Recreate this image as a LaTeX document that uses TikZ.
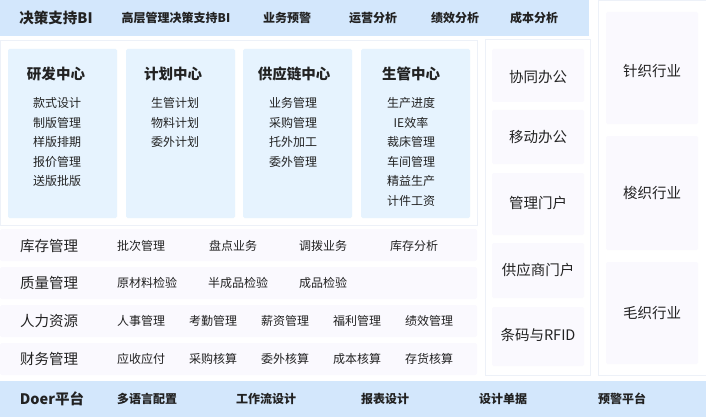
\documentclass[tikz,border=0pt]{standalone}
\usepackage{fontspec}
\setmainfont{Noto Sans CJK SC}
\definecolor{barblue}{HTML}{D3E7FC}
\definecolor{colblue}{HTML}{E6F3FE}
\definecolor{tilegray}{HTML}{FAF9FE}
\definecolor{edgegray}{HTML}{EDF1F8}
\definecolor{txt}{HTML}{222222}

\begin{document}
\begin{tikzpicture}[x=1pt, y=-1pt,
    bar/.style = {fill=barblue},
    panel/.style = {fill=white, draw=edgegray, line width=1pt},
    col/.style = {fill=colblue, rounded corners=1.5pt},
    tile/.style = {fill=tilegray, rounded corners=1.5pt},
    head/.style = {font=\fontsize{14.5}{17}\selectfont\bfseries, text=txt, inner sep=0pt},
    barlbl/.style = {font=\fontsize{12}{14}\selectfont\bfseries, text=txt, inner sep=0pt},
    item/.style = {font=\fontsize{12}{14}\selectfont, text=txt, inner sep=0pt},
    lbl/.style = {font=\fontsize{14.5}{17}\selectfont, text=txt, inner sep=0pt}]
    \useasboundingbox (0,0) rectangle (706,417);

    % top bar
    \fill[bar] (0,0) rectangle (589,36);
    \node[head] (bi) at (56,18) {决策支持BI};
    \node[barlbl] (bi1) at (176,18) {高层管理决策支持BI};
    \node[barlbl] (bi2) at (287,18) {业务预警};
    \node[barlbl] (bi3) at (373,18) {运营分析};
    \node[barlbl] (bi4) at (455,18) {绩效分析};
    \node[barlbl] (bi5) at (534,18) {成本分析};

    % centres
    \draw[panel] (0.5,40.5) rectangle (477,225.5);
    \fill[col] (8,49) rectangle (117,218);
    \fill[col] (126,49) rectangle (235,218);
    \fill[col] (243,49) rectangle (352,218);
    \fill[col] (361,49) rectangle (470,218);
    \node[head] (rnd) at (56,74) {研发中心};
    \node[head] (plan) at (173,74) {计划中心};
    \node[head] (supply) at (294,74) {供应链中心};
    \node[head] (prod) at (411,74) {生管中心};
    \foreach \t [count=\i] in {款式设计,制版管理,样版排期,报价管理,送版批版}
        \node[item] (rnd\i) at (57,83.4+19.6*\i) {\t};
    \foreach \t [count=\i] in {生管计划,物料计划,委外计划}
        \node[item] (plan\i) at (175,83.4+19.6*\i) {\t};
    \foreach \t [count=\i] in {业务管理,采购管理,托外加工,委外管理}
        \node[item] (supply\i) at (293,83.4+19.6*\i) {\t};
    \foreach \t [count=\i] in {生产进度,IE效率,裁床管理,车间管理,精益生产,计件工资}
        \node[item] (prod\i) at (411,83.4+19.6*\i) {\t};

    % rows
    \fill[tile] (0,229) rectangle (477,261);
    \fill[tile] (0,267) rectangle (477,299);
    \fill[tile] (0,305) rectangle (477,337);
    \fill[tile] (0,343) rectangle (477,375);
    \node[lbl] (stock) at (49,246) {库存管理};
    \node[lbl] (quality) at (49,283) {质量管理};
    \node[lbl] (hr) at (49,321) {人力资源};
    \node[lbl] (finance) at (49,359) {财务管理};
    \foreach \t/\x [count=\i] in {批次管理/117,盘点业务/209,调拨业务/299,库存分析/390}
        \node[item, anchor=west] (stock\i) at (\x,246) {\t};
    \foreach \t/\x [count=\i] in {原材料检验/117,半成品检验/208,成品检验/299}
        \node[item, anchor=west] (quality\i) at (\x,283) {\t};
    \foreach \t/\x [count=\i] in {人事管理/117,考勤管理/189,薪资管理/261,福利管理/333,绩效管理/405}
        \node[item, anchor=west] (hr\i) at (\x,321) {\t};
    \foreach \t/\x [count=\i] in {应收应付/117,采购核算/189,委外核算/261,成本核算/333,存货核算/405}
        \node[item, anchor=west] (finance\i) at (\x,359) {\t};

    % office column
    \draw[panel] (485.5,39.5) rectangle (590,375);
    \fill[tile] (492,49) rectangle (584,102);
    \fill[tile] (492,110) rectangle (584,164);
    \fill[tile] (492,173) rectangle (584,235);
    \fill[tile] (492,243) rectangle (584,298);
    \fill[tile] (492,307) rectangle (584,366);
    \node[lbl] (office1) at (538,77) {协同办公};
    \node[lbl] (office2) at (538,137) {移动办公};
    \node[lbl] (office3) at (538,203) {管理门户};
    \node[lbl] (office4) at (538,270) {供应商门户};
    \node[lbl] (office5) at (538,335) {条码与RFID};

    % industries
    \draw[panel] (598.5,0.5) rectangle (706,375);
    \fill[tile] (606,12) rectangle (698,124);
    \fill[tile] (606,136) rectangle (698,250);
    \fill[tile] (606,262) rectangle (698,364);
    \node[lbl] (knit) at (652,71) {针织行业};
    \node[lbl] (woven) at (652,193) {梭织行业};
    \node[lbl] (wool) at (652,313) {毛织行业};

    % platform bar
    \fill[bar] (0,381) rectangle (706,417);
    \node[head] (doer) at (52,399) {Doer平台};
    \node[barlbl, anchor=west] (doer1) at (117,399) {多语言配置};
    \node[barlbl, anchor=west] (doer2) at (236,399) {工作流设计};
    \node[barlbl, anchor=west] (doer3) at (361,399) {报表设计};
    \node[barlbl, anchor=west] (doer4) at (479,399) {设计单据};
    \node[barlbl, anchor=west] (doer5) at (598,399) {预警平台};
\end{tikzpicture}
\end{document}
